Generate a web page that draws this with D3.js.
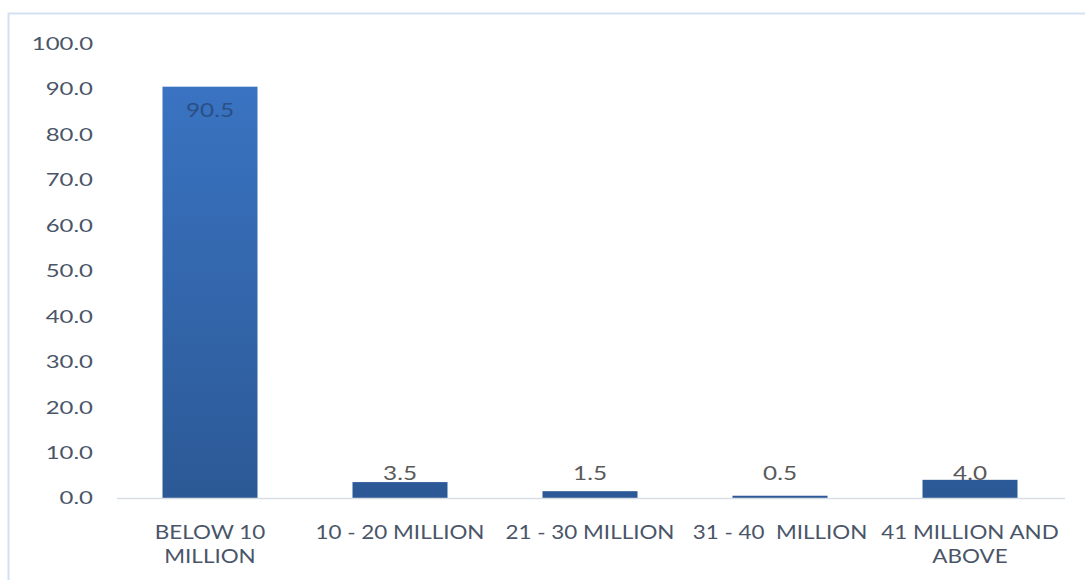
<!DOCTYPE html>
<html><head><meta charset="utf-8">
<script src="https://cdn.jsdelivr.net/npm/d3@7"></script>
<style>body{margin:0;background:#fff;}svg{display:block;}</style>
</head><body>
<script>
const categories = [["BELOW 10","MILLION"],["10 - 20 MILLION"],["21 - 30 MILLION"],["31 - 40  MILLION"],["41 MILLION AND","ABOVE"]];
const values = [90.5, 3.5, 1.5, 0.5, 4.0];
const yTicks = [0,10,20,30,40,50,60,70,80,90,100];

const W = 1085, H = 580;
const svg = d3.select("body").append("svg").attr("width", W).attr("height", H);

const x = d3.scaleBand().domain(d3.range(categories.length)).range([115,1065]).paddingInner(0.5).paddingOuter(0.25);
const y = d3.scaleLinear().domain([0,100]).range([498,43.5]);

const defs = svg.append("defs");
const g = defs.append("linearGradient").attr("id","bg").attr("gradientUnits","userSpaceOnUse")
  .attr("x1",0).attr("x2",0).attr("y1", y(100)).attr("y2", y(0));
g.append("stop").attr("offset","0%").attr("stop-color","#3b76c6");
g.append("stop").attr("offset","100%").attr("stop-color","#2c5996");

svg.append("rect").attr("x",8.5).attr("y",13.5).attr("width",W).attr("height",H)
  .attr("fill","none").attr("stroke","#d5e1f2").attr("stroke-width",2);

const font = "Lato, 'Open Sans', sans-serif";

// y tick labels
svg.append("g").selectAll("text").data(yTicks).join("text")
  .attr("transform",d=>`translate(93,${y(d)}) scale(1.33,1)`)
  .attr("dy","0.36em").attr("text-anchor","end")
  .attr("font-family",font).attr("font-size",18).attr("fill","#4a5568")
  .text(d=>d.toFixed(1));

// bars
svg.append("g").selectAll("rect").data(values).join("rect")
  .attr("x",(d,i)=>x(i)).attr("width",x.bandwidth())
  .attr("y",d=>y(d)).attr("height",d=>y(0)-y(d))
  .attr("fill","url(#bg)");

// baseline
svg.append("line").attr("x1",117).attr("x2",1065).attr("y1",y(0)+0.5).attr("y2",y(0)+0.5)
  .attr("stroke","#d9dee6").attr("stroke-width",1.5);

// data labels
svg.append("g").selectAll("text").data(values).join("text")
  .attr("transform",(d,i)=>`translate(${x(i)+x.bandwidth()/2},${d>50 ? y(d)+30 : y(0)-18}) scale(1.28,1)`)
  .attr("text-anchor","middle")
  .attr("font-family",font).attr("font-size",19)
  .attr("fill",d=> d>50 ? "#2a4f86" : "#595959")
  .text(d=>d.toFixed(1));

// category labels
const cg = svg.append("g").selectAll("text").data(categories).join("text")
  .attr("transform",(d,i)=>`translate(${x(i)+x.bandwidth()/2},539) scale(1.18,1)`)
  .attr("text-anchor","middle").attr("font-family",font).attr("font-size",19).attr("fill","#4a5568")
  .attr("xml:space","preserve");
cg.selectAll("tspan").data(d=>d).join("tspan")
  .attr("x",0)
  .attr("dy",(d,i)=> i===0 ? 0 : 24)
  .text(d=>d);
</script>
</body></html>
